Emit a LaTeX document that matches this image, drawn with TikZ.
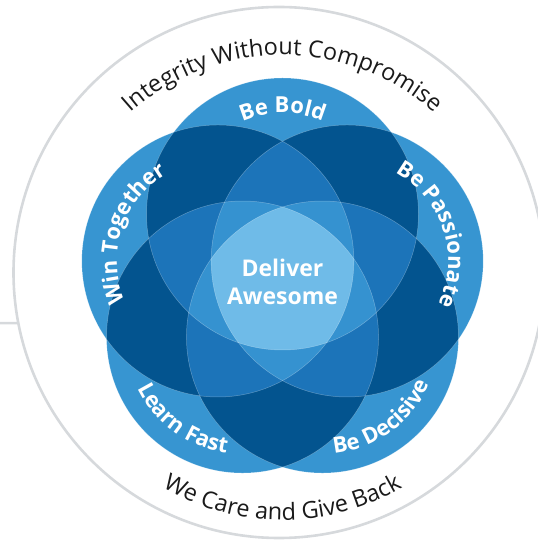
\documentclass[tikz,border=0pt]{standalone}
\usepackage{fontspec}
\setmainfont{Open Sans}
\usetikzlibrary{calc,decorations.text}

\definecolor{petal}{HTML}{3795D1}
\definecolor{twofold}{HTML}{03548F}
\definecolor{threefold}{HTML}{1C74B9}
\definecolor{fourfold}{HTML}{3592D0}
\definecolor{corefill}{HTML}{6FBBE8}
\definecolor{ringgrey}{HTML}{D6D9DC}
\definecolor{ink}{HTML}{1A1A1A}

\tikzset{
  ringline/.style={draw=ringgrey, line width=2.6pt},
  seam/.style={draw=white, opacity=0.3, line width=0.5pt},
  valuetext/.style={decorate, decoration={text along path, text align=center,
      text color=white, text={|\fontsize{22}{22}\selectfont\bfseries|#1}}},
  mottotext/.style={decorate, decoration={text along path, text align=center,
      text color=ink, text={|\fontsize{23.5}{23.5}\selectfont|#1}}},
}

\begin{document}
\begin{tikzpicture}[x=1pt,y=1pt]
    \useasboundingbox (-282.5,-263) rectangle (254.5,282);

    % Outer ring
    \coordinate (g) at (-3.5,9.5);
    \path[ringline] (g) circle[radius=265.5];
    \coordinate (gl) at ($(g)+(191:265.5)$);
    \coordinate (edge) at (-282.5,-41.2);
    \path[ringline] (edge) -- (gl);

    % Five value circles
    \foreach \a [count=\i from 0] in {90,18,-54,-126,162}
        \coordinate (c\i) at (\a:68);

    \foreach \i in {0,...,4}
        \fill[petal] (c\i) circle[radius=136];

    % Two circles overlap
    \foreach \i in {0,...,4} \foreach \j in {0,...,4} {
        \ifnum\i<\j
            \begin{scope}
                \clip (c\i) circle[radius=136];
                \fill[twofold] (c\j) circle[radius=136];
            \end{scope}
        \fi}

    % Three circles overlap
    \foreach \i in {0,...,4} \foreach \j in {0,...,4} \foreach \k in {0,...,4} {
        \ifnum\i<\j \ifnum\j<\k
            \begin{scope}
                \clip (c\i) circle[radius=136];
                \clip (c\j) circle[radius=136];
                \fill[threefold] (c\k) circle[radius=136];
            \end{scope}
        \fi\fi}

    % Four circles overlap
    \foreach \m [evaluate=\m as \p using {int(mod(\m+1,5))},
                 evaluate=\m as \q using {int(mod(\m+2,5))},
                 evaluate=\m as \r using {int(mod(\m+3,5))}] in {0,...,4} {
        \begin{scope}
            \clip (c\m) circle[radius=136];
            \clip (c\p) circle[radius=136];
            \clip (c\q) circle[radius=136];
            \fill[fourfold] (c\r) circle[radius=136];
        \end{scope}}

    % All five
    \begin{scope}
        \clip (c0) circle[radius=136];
        \clip (c1) circle[radius=136];
        \clip (c2) circle[radius=136];
        \clip (c3) circle[radius=136];
        \fill[corefill] (c4) circle[radius=136];
    \end{scope}

    \foreach \i in {0,...,4}
        \path[seam] (c\i) circle[radius=136];

    % Labels on the circles
    \path[valuetext=Be Bold] (c0) ++(160:101) arc[start angle=160, end angle=20, radius=101];
    \path[valuetext=Be Passionate] (c1) ++(88:101) arc[start angle=88, end angle=-52, radius=101];
    \path[valuetext=Win Together] (c4) ++(232:101) arc[start angle=232, end angle=92, radius=101];
    \path[valuetext=Be Decisive] (c2) ++(-124:117) arc[start angle=-124, end angle=16, radius=117];
    \path[valuetext=Learn Fast] (c3) ++(164:117) arc[start angle=164, end angle=304, radius=117];

    \node[text=white, font=\fontsize{23}{28}\selectfont\bfseries, align=center] (core) at (0,0) {Deliver\\Awesome};

    % Texts around
    \path[mottotext=Integrity Without Compromise] (0,0) ++(150:227) arc[start angle=150, end angle=30, radius=227];
    \path[mottotext=We Care and Give Back] (0,0) ++(200:238) arc[start angle=200, end angle=340, radius=238];
\end{tikzpicture}
\end{document}
